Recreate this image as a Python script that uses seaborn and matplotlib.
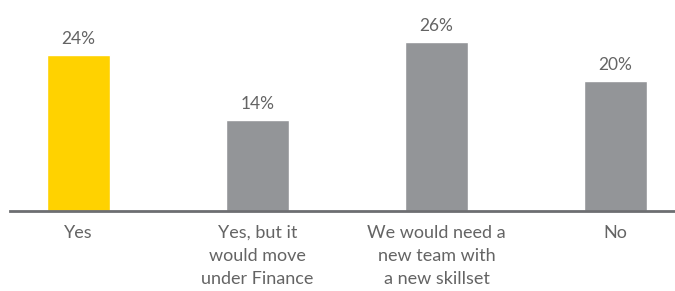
import matplotlib
matplotlib.use("Agg")
import matplotlib.pyplot as plt
import seaborn as sns
import pandas as pd

categories = ["Yes", "Yes, but it\nwould move\nunder Finance",
              "We would need a\nnew team with\na new skillset", "No"]
values = [24, 14, 26, 20]
colors = ["#FFD200", "#939598", "#939598", "#939598"]

sns.set_theme(style="white")
plt.rcParams['font.family'] = ['Lato', 'DejaVu Sans']

df = pd.DataFrame({"cat": categories, "val": values})

fig = plt.figure(figsize=(6.75, 2.91), dpi=100)
ax = fig.add_axes([10/675, (291-211)/291, 665/675, 211/291])
sns.barplot(data=df, x="cat", y="val", hue="cat", palette=colors,
            legend=False, width=0.352, saturation=1, ax=ax)

for c in ax.containers:
    ax.bar_label(c, labels=[f"{v:.0f}%" for v in c.datavalues],
                 padding=6, fontsize=12.5, color="#646464")

ax.set_xlim(-0.383, 3.332)
ax.set_ylim(0, 32.46)
ax.set_xlabel("")
ax.set_ylabel("")
ax.set_yticks([])
for s in ["top", "right", "left"]:
    ax.spines[s].set_visible(False)
ax.spines["bottom"].set_color("#6d6e71")
ax.spines["bottom"].set_linewidth(2)
ax.tick_params(axis="x", length=0, pad=10, labelsize=13, labelcolor="#646464")
for t in ax.get_xticklabels():
    t.set_linespacing(1.55)

fig.savefig("out.png", dpi=100)
